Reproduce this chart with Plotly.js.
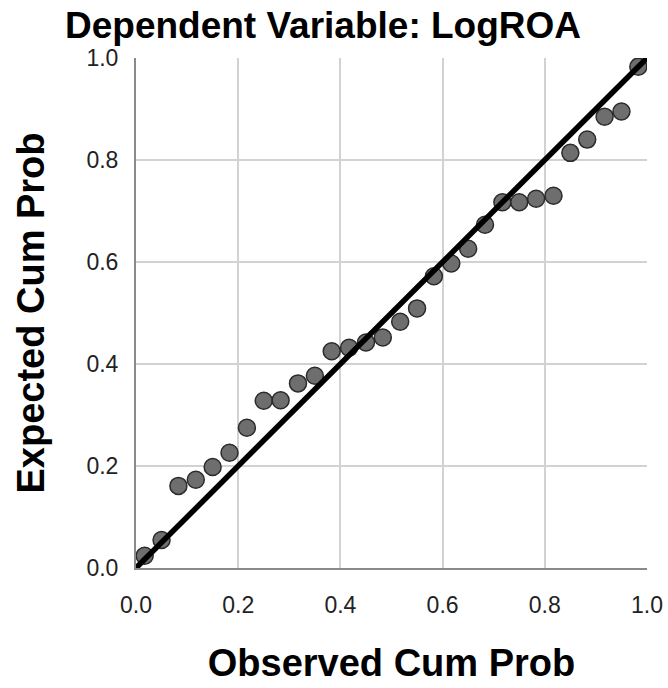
<!DOCTYPE html>
<html>
<head>
<meta charset="utf-8">
<script src="https://cdn.plot.ly/plotly-3.0.1.min.js"></script>
<style>html,body{margin:0;padding:0;background:#fff;}#chart{width:668px;height:688px;}</style>
</head>
<body>
<div id="chart"></div>
<script>
// Observed cumulative probability (x) and expected cumulative probability (y)
var observedCumProb = [0.017, 0.050, 0.083, 0.117, 0.150, 0.183, 0.217, 0.250, 0.283, 0.317,
                       0.350, 0.383, 0.417, 0.450, 0.483, 0.517, 0.550, 0.583, 0.617, 0.650,
                       0.683, 0.717, 0.750, 0.783, 0.817, 0.850, 0.883, 0.917, 0.950, 0.983];
var expectedCumProb = [0.024, 0.055, 0.161, 0.173, 0.198, 0.226, 0.275, 0.328, 0.329, 0.362,
                       0.377, 0.425, 0.432, 0.442, 0.452, 0.483, 0.509, 0.572, 0.597, 0.626,
                       0.673, 0.717, 0.717, 0.724, 0.730, 0.814, 0.840, 0.885, 0.895, 0.983];
var refLineX = [0, 1];
var refLineY = [0, 1];
var tickVals = [0, 0.2, 0.4, 0.6, 0.8, 1.0];
var tickText = ["0.0", "0.2", "0.4", "0.6", "0.8", "1.0"];

var traces = [
  {
    type: 'scatter', mode: 'markers',
    x: observedCumProb, y: expectedCumProb,
    marker: {size: 17, color: '#6e6e6e', line: {color: '#2b2b2b', width: 1.5}},
    hoverinfo: 'x+y', showlegend: false
  },
  {
    type: 'scatter', mode: 'lines',
    x: refLineX, y: refLineY,
    line: {color: '#000000', width: 5.5},
    hoverinfo: 'skip', showlegend: false
  }
];

var layout = {
  width: 668, height: 688,
  paper_bgcolor: '#ffffff', plot_bgcolor: '#ffffff',
  margin: {l: 136, r: 21, t: 58, b: 120, pad: 0},
  showlegend: false,
  font: {family: 'Liberation Sans, Arial, sans-serif', color: '#000'},
  title: {
    text: 'Dependent Variable: LogROA',
    font: {family: 'Liberation Sans, Arial, sans-serif', size: 37, weight: 'bold', color: '#000'},
    xref: 'paper', x: 0.366, xanchor: 'center',
    yref: 'container', y: 1 - 25/688, yanchor: 'middle'
  },
  xaxis: {
    range: [0, 1], tickvals: tickVals, ticktext: tickText,
    showgrid: true, gridcolor: '#d2d2d2', gridwidth: 2,
    zeroline: false, showline: true, linecolor: '#8a8a8a', linewidth: 2,
    ticks: '', ticklabelstandoff: 15,
    tickfont: {size: 23, color: '#222'},
    title: {text: 'Observed Cum Prob', standoff: 33,
            font: {size: 38, weight: 'bold', color: '#000'}},
    fixedrange: true
  },
  yaxis: {
    range: [0, 1], tickvals: tickVals, ticktext: tickText,
    showgrid: true, gridcolor: '#d2d2d2', gridwidth: 2,
    zeroline: false, showline: true, linecolor: '#8a8a8a', linewidth: 2,
    ticks: '', ticklabelstandoff: 11,
    tickfont: {size: 23, color: '#222'},
    title: {text: 'Expected Cum Prob', standoff: 30,
            font: {size: 38, weight: 'bold', color: '#000'}},
    fixedrange: true
  }
};

Plotly.newPlot('chart', traces, layout, {displayModeBar: false, staticPlot: true});
</script>
</body>
</html>
